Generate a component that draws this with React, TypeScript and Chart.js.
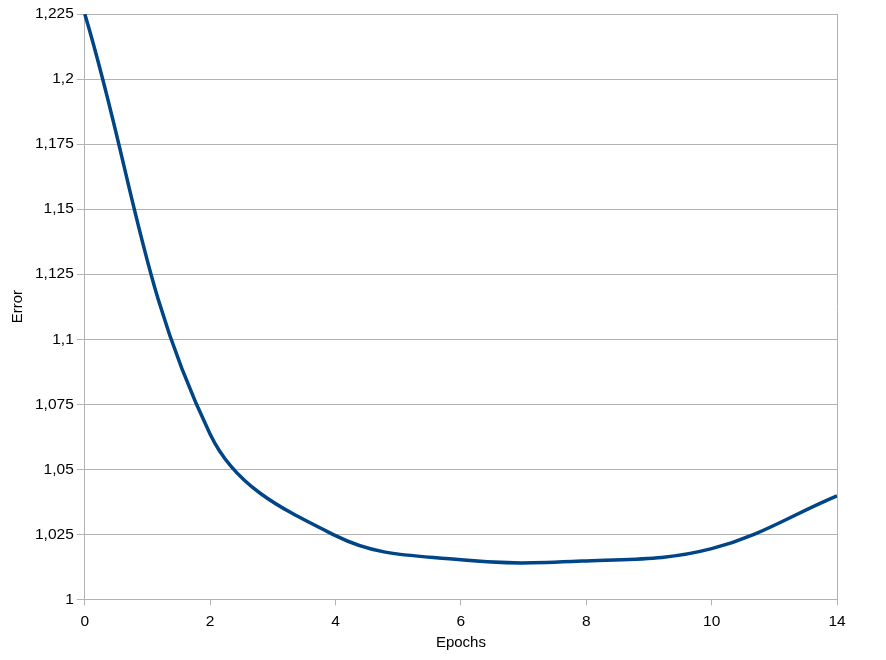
import React, { useEffect, useRef } from "react";
import { Chart, registerables } from "chart.js";

Chart.register(...registerables);

const epochs = ["0", "2", "4", "6", "8", "10", "14"];
const errorValues = [1.225, 1.0635, 1.0245, 1.0152, 1.0148, 1.0195, 1.0398];
const yTicks = [1, 1.025, 1.05, 1.075, 1.1, 1.125, 1.15, 1.175, 1.2, 1.225];
const yTickLabels = ["1", "1,025", "1,05", "1,075", "1,1", "1,125", "1,15", "1,175", "1,2", "1,225"];

const FONT = "'Liberation Sans', Arial, sans-serif";
const GRID = "#b3b3b3";

const rightBorder = {
  id: "rightBorder",
  afterDraw(chart: any) {
    const { ctx, chartArea } = chart;
    ctx.save();
    ctx.strokeStyle = GRID;
    ctx.lineWidth = 1;
    ctx.beginPath();
    ctx.moveTo(Math.round(chartArea.right) + 0.5, chartArea.top);
    ctx.lineTo(Math.round(chartArea.right) + 0.5, chartArea.bottom);
    ctx.stroke();
    ctx.restore();
  },
};

export default function App() {
  const ref = useRef<HTMLCanvasElement | null>(null);
  useEffect(() => {
    document.body.style.margin = "0";
    const chart = new Chart(ref.current as HTMLCanvasElement, {
      type: "line",
      data: {
        labels: epochs,
        datasets: [
          {
            data: errorValues,
            borderColor: "#004586",
            borderWidth: 3.5,
            pointRadius: 0,
            tension: 0.38,
            fill: false,
          },
        ],
      },
      options: {
        animation: false,
        responsive: false,
        maintainAspectRatio: false,
        layout: { padding: { top: 14, right: 49, left: 9, bottom: 10 } },
        plugins: { legend: { display: false }, tooltip: { enabled: false } },
        scales: {
          x: {
            type: "category",
            offset: false,
            grid: {
              drawOnChartArea: false,
              drawTicks: true,
              tickLength: 6,
              color: GRID,
            },
            border: { color: GRID },
            ticks: {
              color: "#000",
              font: { family: FONT, size: 15.5 },
              maxRotation: 0,
              autoSkip: false,
              padding: 7,
            },
            title: {
              display: true,
              text: "Epochs",
              color: "#000",
              font: { family: FONT, size: 15, lineHeight: 1 },
              padding: { top: -3, bottom: 0 },
            },
          },
          y: {
            min: 1,
            max: 1.225,
            afterBuildTicks: (axis: any) => {
              axis.ticks = yTicks.map((v) => ({ value: v }));
            },
            grid: { color: GRID, tickLength: 8 },
            border: { color: GRID },
            ticks: {
              color: "#000",
              font: { family: FONT, size: 15.5 },
              padding: 3,
              callback: (value: any) => {
                const i = yTicks.findIndex((t) => Math.abs(t - Number(value)) < 1e-9);
                return i >= 0 ? yTickLabels[i] : "";
              },
            },
            title: {
              display: true,
              text: "Error",
              color: "#000",
              font: { family: FONT, size: 15 },
              padding: { top: 0, bottom: 5 },
            },
          },
        },
      },
      plugins: [rightBorder],
    });
    return () => chart.destroy();
  }, []);
  return (
    <div style={{ position: "absolute", left: 0, top: 0, width: 886, height: 660 }}>
      <canvas ref={ref} width={886} height={660} />
    </div>
  );
}
